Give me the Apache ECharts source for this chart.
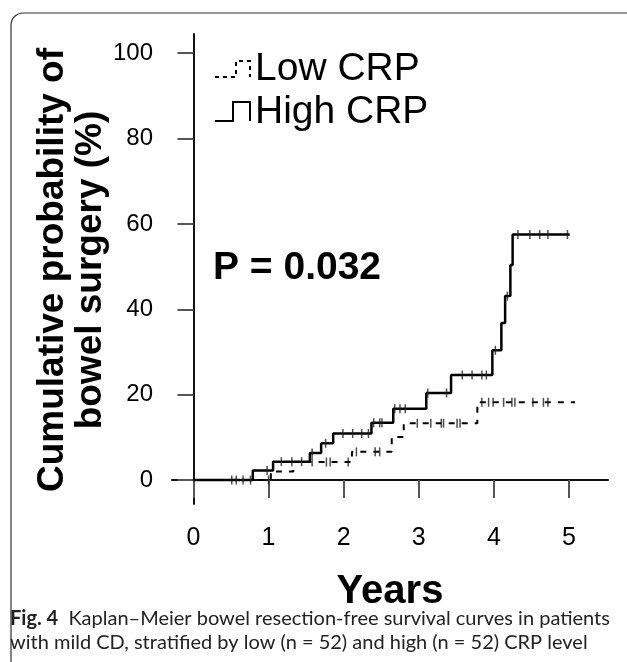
<!DOCTYPE html>
<html>
<head>
<meta charset="utf-8">
<script src="https://cdn.jsdelivr.net/npm/echarts@6/dist/echarts.min.js"></script>
<style>
html,body{margin:0;padding:0;background:#fff;}
#chart{width:627px;height:662px;}
</style>
</head>
<body>
<div id="chart"></div>
<script>
// ---- data (years, cumulative probability %) ----
var highTimes  = [0, 0.79, 1.06, 1.55, 1.70, 1.86, 2.37, 2.66, 3.10, 3.43, 3.98, 4.10, 4.15, 4.22, 4.25, 5.01];
var highValues = [0, 2.2, 4.3, 6.3, 8.6, 10.9, 13.4, 16.7, 20.4, 24.6, 30.4, 36.8, 43.1, 50.4, 57.5, 57.5];
var lowTimes   = [0, 1.03, 1.33, 2.11, 2.64, 2.80, 3.78, 5.08];
var lowValues  = [0, 2.0, 4.2, 6.6, 10.1, 13.3, 18.2, 18.2];
// censored observations
var highCensorTimes  = [0.51, 0.66, 0.76, 0.98, 1.17, 1.31, 1.44, 1.58, 1.76, 1.99, 2.12, 2.24, 2.33, 2.40, 2.48, 2.51, 2.68, 2.75, 2.82, 3.12, 3.37, 3.58, 3.71, 3.84, 3.90, 4.02, 4.18, 4.32, 4.48, 4.61, 4.72, 4.98];
var highCensorValues = [0, 0, 0, 2.2, 4.3, 4.3, 4.3, 6.3, 8.6, 10.9, 10.9, 10.9, 10.9, 13.4, 13.4, 13.4, 16.7, 16.7, 16.7, 20.4, 20.4, 24.6, 24.6, 24.6, 24.6, 30.4, 43.1, 57.5, 57.5, 57.5, 57.5, 57.5];
var lowCensorTimes  = [0.57, 1.00, 1.58, 1.77, 1.82, 2.06, 2.17, 2.42, 2.48, 2.98, 3.16, 3.30, 3.33, 3.51, 3.55, 3.84, 3.93, 3.99, 4.13, 4.24, 4.28, 4.52, 4.66, 4.72];
var lowCensorValues = [0, 0, 4.2, 4.2, 4.2, 4.2, 6.6, 6.6, 6.6, 13.3, 13.3, 13.3, 13.3, 13.3, 13.3, 18.2, 18.2, 18.2, 18.2, 18.2, 18.2, 18.2, 18.2, 18.2];
var xTicks = [0, 1, 2, 3, 4, 5];
var yTicks = [0, 20, 40, 60, 80, 100];
var seriesNames = ['Low CRP', 'High CRP'];

function zip(a, b) { return a.map(function (v, i) { return [v, b[i]]; }); }

var chart = echarts.init(document.getElementById('chart'), null, {renderer: 'canvas'});
var FONT = '"Liberation Sans", Arial, Helvetica, sans-serif';

var option = {
  animation: false,
  backgroundColor: '#fff',
  grid: {left: 172, right: 19, top: 34, bottom: 158, containLabel: false},
  xAxis: {
    type: 'value', min: -0.286, max: 5.52,
    name: 'Years', nameLocation: 'middle', nameGap: 68,
    nameTextStyle: {fontFamily: FONT, fontWeight: 'bold', fontSize: 40, color: '#000'},
    axisLine: {show: true, lineStyle: {color: '#111', width: 2}},
    axisTick: {show: true, inside: false, length: 18, customValues: xTicks, lineStyle: {color: '#555', width: 2}},
    axisLabel: {customValues: xTicks, margin: 22, fontFamily: FONT, fontSize: 25, color: '#000'},
    splitLine: {show: false}
  },
  yAxis: {
    type: 'value', min: -5.62, max: 104.5,
    axisLine: {show: true, lineStyle: {color: '#111', width: 2}},
    axisTick: {show: true, inside: false, length: 16, customValues: yTicks, lineStyle: {color: '#555', width: 2}},
    axisLabel: {customValues: yTicks, margin: 19, fontFamily: FONT, fontSize: 24, color: '#000'},
    splitLine: {show: false}
  },
  series: [
    {
      name: seriesNames[0], type: 'line', step: 'end', symbol: 'none',
      data: zip(lowTimes, lowValues),
      lineStyle: {color: '#000', width: 2, type: [6, 7]}, z: 3
    },
    {
      name: seriesNames[1], type: 'line', step: 'end', symbol: 'none',
      data: zip(highTimes, highValues),
      lineStyle: {color: '#000', width: 2.5, type: 'solid'}, z: 4
    },
    {
      name: seriesNames[0] + ' censored', type: 'scatter', symbol: 'rect', symbolSize: [1.5, 9],
      itemStyle: {color: '#222'}, data: zip(lowCensorTimes, lowCensorValues), z: 5
    },
    {
      name: seriesNames[1] + ' censored', type: 'scatter', symbol: 'rect', symbolSize: [1.5, 9],
      itemStyle: {color: '#222'}, data: zip(highCensorTimes, highCensorValues), z: 5
    }
  ],
  graphic: [
    {type: 'rect', shape: {x: 11, y: 13, width: 700, height: 700, r: 12}, style: {fill: 'none', stroke: '#333', lineWidth: 1.2}, z: -1},
    // y-axis title
    {type: 'text', x: 72, y: 270, rotation: Math.PI / 2,
      style: {text: 'Cumulative probability of\nbowel surgery (%)', font: 'bold 37px ' + FONT, fill: '#000',
        textAlign: 'center', textVerticalAlign: 'middle', lineHeight: 38}},
    // p-value
    {type: 'text', x: 213, y: 268,
      style: {text: 'P = 0.032', font: 'bold 39px ' + FONT, fill: '#000', textAlign: 'left', textVerticalAlign: 'middle'}},
    // legend
    {type: 'polyline', shape: {points: [[215, 77], [236, 77], [236, 61], [250, 61], [250, 77]]},
      style: {stroke: '#000', lineWidth: 2, lineDash: [4, 4], fill: 'none'}},
    {type: 'text', x: 255, y: 69, style: {text: seriesNames[0], font: '39px ' + FONT, fill: '#000', textVerticalAlign: 'middle'}},
    {type: 'polyline', shape: {points: [[215, 121], [233, 121], [233, 102], [250, 102], [250, 121]]},
      style: {stroke: '#000', lineWidth: 2, fill: 'none'}},
    {type: 'text', x: 255, y: 112, style: {text: seriesNames[1], font: '39px ' + FONT, fill: '#000', textVerticalAlign: 'middle'}},
    // caption
    {type: 'text', x: 10, y: 607,
      style: {
        text: '{b|Fig. 4}  Kaplan–Meier bowel resection-free survival curves in patients\nwith mild CD, stratified by low (n = 52) and high (n = 52) CRP level',
        font: '20px Lato, sans-serif', fill: '#222', lineHeight: 24, textVerticalAlign: 'top',
        rich: {b: {font: 'bold 20px Lato, sans-serif', fill: '#222', lineHeight: 24}}
      }}
  ]
};
chart.setOption(option);
</script>
</body>
</html>
